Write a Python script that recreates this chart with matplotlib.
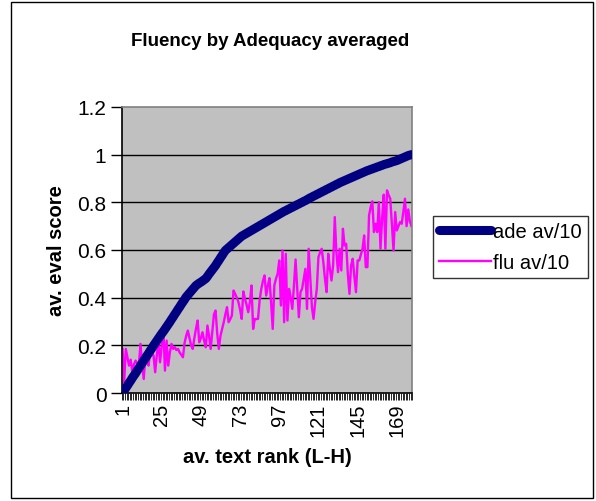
import numpy as np
import matplotlib.pyplot as plt
from matplotlib.patches import Rectangle

plt.rcParams['font.family'] = ['Liberation Sans', 'DejaVu Sans']

# average adequacy score /10, by text rank (low to high)
ade = [
    0.000, 0.010, 0.021, 0.031, 0.042, 0.052, 0.063, 0.073, 0.083, 0.094,
    0.104, 0.115, 0.125, 0.136, 0.146, 0.157, 0.167, 0.178, 0.188, 0.199,
    0.209, 0.219, 0.229, 0.239, 0.249, 0.258, 0.268, 0.278, 0.288, 0.298,
    0.309, 0.319, 0.330, 0.340, 0.351, 0.361, 0.372, 0.382, 0.392, 0.403,
    0.411, 0.419, 0.427, 0.435, 0.443, 0.451, 0.456, 0.461, 0.465, 0.470,
    0.475, 0.480, 0.489, 0.499, 0.508, 0.517, 0.526, 0.535, 0.546, 0.556,
    0.567, 0.577, 0.588, 0.598, 0.604, 0.610, 0.616, 0.622, 0.628, 0.634,
    0.640, 0.646, 0.652, 0.658, 0.662, 0.666, 0.670, 0.674, 0.678, 0.682,
    0.686, 0.690, 0.694, 0.698, 0.702, 0.706, 0.710, 0.714, 0.718, 0.722,
    0.726, 0.730, 0.734, 0.738, 0.742, 0.746, 0.750, 0.754, 0.758, 0.762,
    0.765, 0.769, 0.772, 0.776, 0.779, 0.783, 0.786, 0.790, 0.793, 0.797,
    0.800, 0.804, 0.807, 0.811, 0.815, 0.819, 0.822, 0.826, 0.829, 0.833,
    0.836, 0.840, 0.843, 0.847, 0.850, 0.854, 0.857, 0.861, 0.864, 0.868,
    0.871, 0.875, 0.878, 0.882, 0.885, 0.888, 0.891, 0.894, 0.897, 0.900,
    0.903, 0.906, 0.909, 0.912, 0.915, 0.918, 0.921, 0.924, 0.927, 0.930,
    0.933, 0.935, 0.938, 0.940, 0.943, 0.945, 0.948, 0.950, 0.953, 0.955,
    0.958, 0.960, 0.962, 0.964, 0.966, 0.969, 0.971, 0.973, 0.975, 0.978,
    0.981, 0.984, 0.987, 0.990, 0.993, 0.996, 0.998, 1.000,
]

# average fluency score /10, same ranking
flu = [
    0.185, 0.045, 0.185, 0.150, 0.115, 0.140, 0.087, 0.120, 0.136, 0.125,
    0.115, 0.206, 0.120, 0.059, 0.157, 0.130, 0.115, 0.192, 0.170, 0.157,
    0.087, 0.160, 0.213, 0.129, 0.200, 0.269, 0.094, 0.220, 0.115, 0.170,
    0.206, 0.185, 0.192, 0.180, 0.185, 0.170, 0.160, 0.150, 0.210, 0.240,
    0.262, 0.230, 0.200, 0.185, 0.230, 0.270, 0.304, 0.213, 0.230, 0.255,
    0.220, 0.192, 0.283, 0.240, 0.185, 0.260, 0.330, 0.346, 0.250, 0.185,
    0.240, 0.269, 0.297, 0.330, 0.360, 0.297, 0.310, 0.325, 0.430, 0.416,
    0.400, 0.381, 0.350, 0.311, 0.426, 0.395, 0.370, 0.339, 0.381, 0.451,
    0.269, 0.311, 0.310, 0.311, 0.390, 0.437, 0.470, 0.493, 0.409, 0.450,
    0.482, 0.380, 0.269, 0.451, 0.480, 0.500, 0.556, 0.367, 0.598, 0.297,
    0.584, 0.304, 0.437, 0.400, 0.353, 0.451, 0.560, 0.440, 0.318, 0.423,
    0.437, 0.480, 0.521, 0.353, 0.605, 0.480, 0.360, 0.311, 0.380, 0.437,
    0.570, 0.590, 0.605, 0.549, 0.479, 0.423, 0.584, 0.520, 0.472, 0.535,
    0.738, 0.591, 0.507, 0.605, 0.514, 0.689, 0.619, 0.626, 0.500, 0.416,
    0.535, 0.563, 0.490, 0.423, 0.556, 0.556, 0.580, 0.605, 0.661, 0.528,
    0.528, 0.745, 0.780, 0.804, 0.675, 0.710, 0.675, 0.801, 0.605, 0.731,
    0.832, 0.605, 0.850, 0.830, 0.815, 0.703, 0.598, 0.759, 0.682, 0.700,
    0.717, 0.710, 0.760, 0.815, 0.700, 0.770, 0.720, 0.700,
]

tick_labels = ['1', '25', '49', '73', '97', '121', '145', '169']
y_ticks = [0, 0.2, 0.4, 0.6, 0.8, 1.0, 1.2]
y_labels = ['0', '0.2', '0.4', '0.6', '0.8', '1', '1.2']

n = len(ade)
x = np.arange(n)

fig = plt.figure(figsize=(5.96, 5.02), dpi=100)
fig.patch.set_facecolor('white')
# chart frame
fig.add_artist(Rectangle((11 / 596, 3 / 502), 582 / 596, 496 / 502, transform=fig.transFigure,
                         fill=False, edgecolor='black', linewidth=1))

ax = fig.add_axes([0.2042, 0.2151, 0.4876, 0.5699])
ax.set_facecolor('#C0C0C0')

for yv in y_ticks[1:-1]:
    ax.axhline(yv, color='black', linewidth=1, zorder=1)

ax.plot(x, ade, color='#000080', linewidth=6.5, solid_capstyle='round', zorder=3, label='ade av/10')
ax.plot(x, flu, color='#FF00FF', linewidth=1.7, zorder=2, label='flu av/10')

ax.set_xlim(-0.5, n - 0.5)
ax.set_ylim(0, 1.2)

label_pos = [int(t) - 1 for t in tick_labels]
ax.set_xticks(label_pos)
ax.set_xticklabels(tick_labels, rotation=90, fontsize=14.5)
ax.set_xticks(np.arange(-0.5, n, 1), minor=True)
ax.tick_params(axis='x', which='major', length=0, pad=7)
ax.tick_params(axis='x', which='minor', length=5, width=0.6, direction='out')

ax.set_yticks(y_ticks)
ax.set_yticklabels(y_labels, fontsize=15)
ax.tick_params(axis='y', length=8, width=1, direction='out', pad=3)

ax.spines['left'].set_color('black')
ax.spines['bottom'].set_color('black')
ax.spines['top'].set_color('#808080')
ax.spines['right'].set_color('#808080')
for s in ax.spines.values():
    s.set_linewidth(1.2)

ax.set_ylabel('av. eval score', fontsize=14.5, fontweight='bold', labelpad=8)
ax.set_xlabel('av. text rank (L-H)', fontsize=14.5, fontweight='bold', labelpad=8)
fig.text(0.453, 0.918, 'Fluency by Adequacy averaged', ha='center', va='center',
         fontsize=13.5, fontweight='bold')

leg = fig.legend(loc='upper left', bbox_to_anchor=(0.726, 0.568), fontsize=14.5,
                 frameon=True, fancybox=False, edgecolor='black', handlelength=2.6,
                 handletextpad=0.1, borderpad=0.3, labelspacing=0.6, borderaxespad=0)
leg.get_frame().set_linewidth(1)

fig.savefig('out.png', dpi=100)
